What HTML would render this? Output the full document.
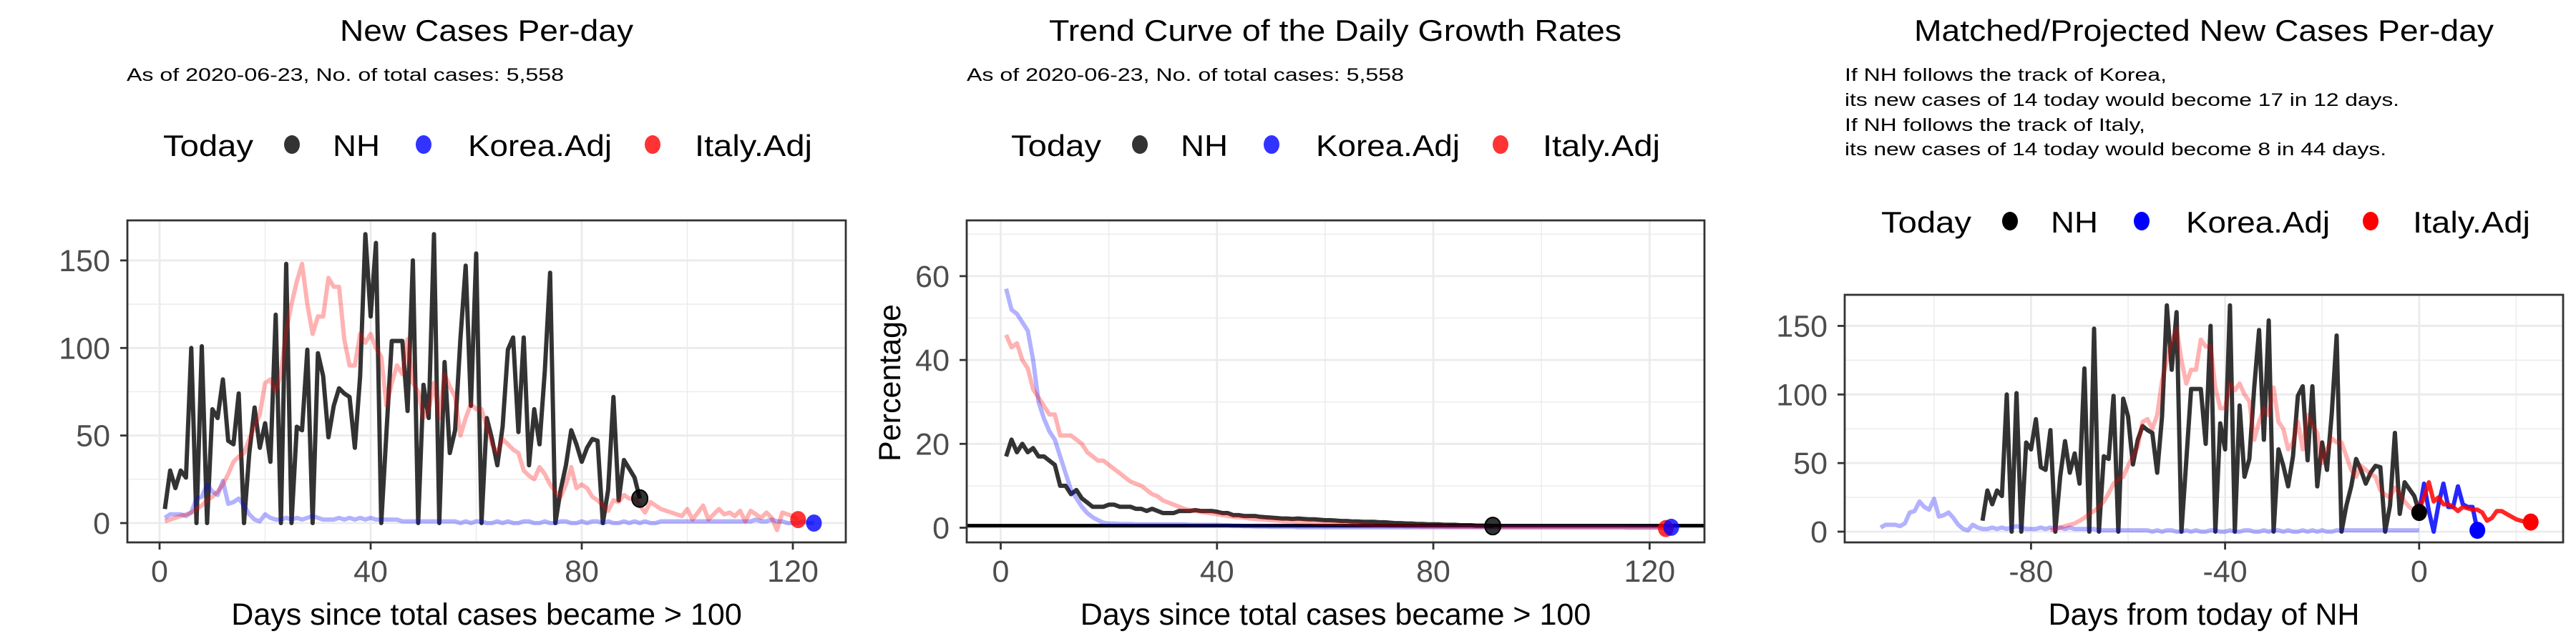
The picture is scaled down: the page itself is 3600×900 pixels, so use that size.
<!DOCTYPE html>
<html><head><meta charset="utf-8"><style>
html,body{margin:0;padding:0;background:#fff;}
svg{display:block;font-family:"Liberation Sans",sans-serif;}
</style></head><body>
<svg id="chart" width="3600" height="900" viewBox="0 0 3600 900" xmlns="http://www.w3.org/2000/svg"></svg>
<script>
// ---------- DATA ----------
const nhDaily = [8,30,20,30,26,100,0,101,0,65,60,82,47,45,74,0,40,66,43,57,35,119,0,148,0,55,53,99,0,97,84,49,67,77,74,72,43,84,165,118,160,0,52,104,104,104,64,150,0,79,60,165,0,92,40,53,105,147,67,154,0,60,48,33,55,99,106,52,106,33,65,45,87,143,0,19,33,53,45,35,43,48,47,0,19,72,13,36,31,26,14];
const koreaDaily = [3,5,5,5,4,6,14,15,22,18,16,24,11,12,14,10,5,2,1,5,3,2,2,3,2,3,2,3,4,3,2,2,2,3,2,3,2,3,2,3,2,2,2,2,2,1,1,1,1,1,1,1,1,1,1,1,0,1,0,1,1,0,0,1,0,1,0,0,1,1,0,0,1,0,0,1,1,0,0,1,0,1,1,0,1,0,0,1,0,1,0,1,0,0,1,1,1,1,1,1,1,1,1,1,1,1,1,1,1,1,1,1,2,1,1,2,1,1,0,0,0,1,0,0];
const italyDaily = [1,2,3,4,5,6,8,10,13,15,18,22,28,35,38,40,48,55,62,80,82,75,85,110,125,138,148,125,108,118,118,140,135,135,105,90,90,108,103,108,100,95,67,80,90,85,105,80,75,60,65,80,60,85,78,72,50,60,68,65,65,55,45,40,48,45,42,40,30,27,25,32,28,22,18,15,22,32,20,22,20,15,13,10,7,13,12,16,14,14,10,6,12,10,8,7,6,5,4,8,2,6,10,2,5,8,5,6,4,7,1,7,5,3,6,3,-4,6,5,4,2];
const nhGrowth = [17,21,18,20,18,19,17,17,16,15,10,10,8,9,7,6,5,5,5,5.5,5.5,5,5,5,4.5,4.5,4,4.5,4,3.5,3.5,3.5,4,4,4,4.2,4,4,4,3.8,3.5,3.5,3,3,2.8,2.8,2.8,2.6,2.5,2.4,2.3,2.2,2.2,2.1,2.2,2.1,2,2,1.9,1.8,1.8,1.7,1.6,1.6,1.5,1.5,1.4,1.4,1.4,1.3,1.3,1.2,1.1,1.1,1,1,0.9,0.9,0.8,0.8,0.8,0.7,0.7,0.7,0.6,0.6,0.6,0.5,0.5,0.5,0.4];
const koreaGrowth = [57,52,51,49,47,40,30,26,23,21,17,13,9,7,5,3.5,2.5,1.8,1.2,1,1,0.9,0.9,0.9,0.8,0.8,0.8,0.8,0.8,0.8,0.8,0.8,0.8,0.8,0.7,0.7,0.7,0.7,0.7,0.7,0.6,0.6,0.5,0.5,0.4,0.4,0.3,0.3,0.3,0.2,0.2,0.2,0.2,0.2,0.1,0.1,0.1,0.1,0.1,0.1,0.1,0.1,0.1,0.1,0.1,0.1,0.1,0.1,0.1,0.1,0.1,0.1,0.1,0.1,0.1,0.1,0.1,0.1,0.1,0.1,0.1,0.1,0.1,0.1,0.1,0.1,0.1,0.1,0.1,0.1,0.1,0.1,0.1,0.1,0.1,0.1,0.1,0.1,0.1,0.1,0.1,0.1,0.1,0.1,0.1,0.1,0.1,0.1,0.1,0.1,0.1,0.1,0.1,0.1,0.1,0.1,0.1,0.1,0.1,0.1,0.1,0.1,0.1,0.1];
const italyGrowth = [46,43,44,40,38,33,31,29,27,27,22,22,22,21,20,18,17,16,16,15,14,13,12,11,10.5,10,9,8,7.5,6.5,6,5.5,5,4.5,4.2,4,3.8,3.6,3.4,3.2,3,2.8,2.6,2.5,2.4,2.2,2.1,2,1.9,1.8,1.7,1.6,1.5,1.5,1.4,1.3,1.3,1.2,1.1,1.1,1,1,0.9,0.9,0.8,0.8,0.7,0.7,0.6,0.6,0.6,0.5,0.5,0.5,0.4,0.4,0.4,0.3,0.3,0.3,0.3,0.3,0.2,0.2,0.2,0.2,0.2,0.2,0.2,0.2,0.2,0.1,0.1,0.1,0.1,0.1,0.1,0.1,0.1,0.1,0.1,0.1,0.1,0.1,0.1,0.1,0.1,0.1,0.1,0.1,0.1,0.1,0.1,0.1,0.1,0,0,0,0,0,0,0,-0.2];
const koreaProj = [14,35,15,0,20,35,18,18,33,20,18,18,1];
const italyProj = [16,25,36,22,25,20,20,18,15,18,17,16,16,14,8,10,15,15,13,11,9,8,7,7];
const xTicks12 = [0,40,80,120];
const yTicks1 = [0,50,100,150];
const yTicks2 = [0,20,40,60];
const xTicks3 = [-80,-40,0];
const nhShift3 = 91, koreaShift3 = 112, italyShift3 = 77;

// ---------- HELPERS ----------
const NS = "http://www.w3.org/2000/svg";
const svg = document.getElementById("chart");
function el(tag, attrs, parent, txt){
  const e = document.createElementNS(NS, tag);
  for (const k in attrs) e.setAttribute(k, attrs[k]);
  if (txt !== undefined) e.textContent = txt;
  (parent || svg).appendChild(e);
  return e;
}
function text(x,y,s,size,opts,parent){
  const a = Object.assign({x:x,y:y,'font-size':size,fill:'#000'}, opts||{});
  return el('text', a, parent, s);
}

function panel(cfg){
  const g = el('g', {});
  
  
  const L=cfg.box[0], R=cfg.box[1], T=cfg.box[2], B=cfg.box[3];
  const sx = v => cfg.x0px + (v - cfg.x0) * cfg.xpu;
  const sy = v => cfg.y0px - (v - cfg.y0) * cfg.ypu;
  const grid = el('g', {}, g);
  
  
  const xs = cfg.xticks, ys = cfg.yticks;
  const xstep = xs[1]-xs[0], ystep = ys[1]-ys[0];
  for (let v = xs[0]-xstep*3; v <= xs[xs.length-1]+xstep*3; v += xstep/2){
    const p = sx(v); if (p < L || p > R) continue;
    const major = Math.abs((v - xs[0]) % xstep) < 1e-9;
    el('line',{x1:p,x2:p,y1:T,y2:B,stroke:'#ebebeb','stroke-width':major?2.8:1.4},grid);
  }
  for (let v = ys[0]-ystep*3; v <= ys[ys.length-1]+ystep*3; v += ystep/2){
    const p = sy(v); if (p < T || p > B) continue;
    const major = Math.abs((v - ys[0]) % ystep) < 1e-9;
    el('line',{x1:L,x2:R,y1:p,y2:p,stroke:'#ebebeb','stroke-width':major?2.8:1.4},grid);
  }
  const cid = 'clip-'+cfg.name;
  const cp = el('clipPath',{id:cid},g); el('rect',{x:L,y:T,width:R-L,height:B-T},cp);
  const plot = el('g',{'clip-path':'url(#'+cid+')'},g);
  if (cfg.hline !== undefined){
    const h = el('line',{x1:L,x2:R,y1:sy(cfg.hline),y2:sy(cfg.hline),stroke:'#000','stroke-width':5},plot);
    
    
  }
  cfg.series.forEach(s => {
    const pts = s.data.map((v,i) => sx(s.x(i)).toFixed(1)+','+sy(v).toFixed(1)).join(' ');
    const pl = el('polyline',{points:pts,fill:'none',stroke:s.color,'stroke-opacity':s.op,'stroke-width':6,'stroke-linejoin':'round'},plot);
    
    
  });
  cfg.points.forEach(p => {
    const c = el('ellipse',{cx:sx(p.x),cy:sy(p.y),rx:11,ry:12,fill:p.color,'fill-opacity':p.op,stroke:'#000','stroke-opacity':p.stroke||0,'stroke-width':2},plot);
    
    
  });
  el('rect',{x:L,y:T,width:R-L,height:B-T,fill:'none',stroke:'#333','stroke-width':2.8},g);
  xs.forEach(v => {
    const p = sx(v);
    el('line',{x1:p,x2:p,y1:B,y2:B+10,stroke:'#333','stroke-width':2.8},g);
    const t = text(p, B+55, String(v), 43, {'text-anchor':'middle',fill:'#4d4d4d'}, g);
    
    
  });
  ys.forEach(v => {
    const p = sy(v);
    el('line',{x1:L-10,x2:L,y1:p,y2:p,stroke:'#333','stroke-width':2.8},g);
    const t = text(L-24, p+15, String(v), 43, {'text-anchor':'end',fill:'#4d4d4d'}, g);
    
    
  });
  const xt = text((L+R)/2, 873, cfg.xtitle, 43, {'text-anchor':'middle'}, g);
  
  
  if (cfg.ytitle){
    const yt = text(0,0,cfg.ytitle,43,{'text-anchor':'middle',transform:'translate('+cfg.ytitleX+',535) rotate(-90)'},g);
    
    
  }
}

function legend(ox, baseline, solid){
  const g = el('g',{});
  
  
  text(ox+228, baseline, 'Today', 42, {textLength:126,lengthAdjust:'spacingAndGlyphs'}, g);
  const items = [['NH',408,465,66,'#000'],['Korea.Adj',592,654,201,'#00f'],['Italy.Adj',912,971,164,'#f00']];
  items.forEach(it => {
    const e = el('g',{},g);
    
    
    el('ellipse',{cx:ox+it[1],cy:baseline-16,rx:11,ry:13,fill:it[4],'fill-opacity':solid?1:0.8},e);
    text(ox+it[2], baseline, it[0], 42, {textLength:it[3],lengthAdjust:'spacingAndGlyphs'}, e);
  });
}

function idx(shift){ return i => i + 1 - shift; }

// ---------- PANEL 1 ----------
let t = text(475, 57, 'New Cases Per-day', 42, {textLength:410,lengthAdjust:'spacingAndGlyphs'});
 
t = text(177, 113, 'As of 2020-06-23, No. of total cases: 5,558', 25, {textLength:611,lengthAdjust:'spacingAndGlyphs'});
 
legend(0, 218, false);
panel({name:'panel-new-cases', box:[178,1182,308,758], x0:0, x0px:223, xpu:7.375, y0:0, y0px:731, ypu:2.447,
  xticks:xTicks12, yticks:yTicks1, xtitle:'Days since total cases became > 100',
  series:[
    {name:'nh-line', data:nhDaily, x:idx(0), color:'#000', op:0.8},
    {name:'korea-line', data:koreaDaily, x:idx(0), color:'#00f', op:0.3},
    {name:'italy-line', data:italyDaily, x:idx(0), color:'#f00', op:0.3}],
  points:[
    {name:'nh-today-point', x:nhDaily.length, y:nhDaily[nhDaily.length-1], color:'#000', op:0.8, stroke:1},
    {name:'italy-today-point', x:italyDaily.length, y:italyDaily[italyDaily.length-1], color:'#f00', op:0.8},
    {name:'korea-today-point', x:koreaDaily.length, y:koreaDaily[koreaDaily.length-1], color:'#00f', op:0.8}]
});

// ---------- PANEL 2 ----------
t = text(1466, 57, 'Trend Curve of the Daily Growth Rates', 42, {textLength:800,lengthAdjust:'spacingAndGlyphs'});
 
t = text(1351, 113, 'As of 2020-06-23, No. of total cases: 5,558', 25, {textLength:611,lengthAdjust:'spacingAndGlyphs'});
 
legend(1185, 218, false);
panel({name:'panel-growth-rates', box:[1351,2382,308,758], x0:0, x0px:1398.5, xpu:7.557, y0:0, y0px:737.5, ypu:5.86,
  xticks:xTicks12, yticks:yTicks2, xtitle:'Days since total cases became > 100', ytitle:'Percentage', ytitleX:1258, hline:0.5,
  series:[
    {name:'nh-growth-line', data:nhGrowth, x:idx(0), color:'#000', op:0.8},
    {name:'korea-growth-line', data:koreaGrowth, x:idx(0), color:'#00f', op:0.3},
    {name:'italy-growth-line', data:italyGrowth, x:idx(0), color:'#f00', op:0.3}],
  points:[
    {name:'nh-growth-point', x:nhGrowth.length, y:nhGrowth[nhGrowth.length-1], color:'#000', op:0.8, stroke:1},
    {name:'italy-growth-point', x:italyGrowth.length, y:italyGrowth[italyGrowth.length-1], color:'#f00', op:0.8},
    {name:'korea-growth-point', x:koreaGrowth.length, y:koreaGrowth[koreaGrowth.length-1], color:'#00f', op:0.8}]
});

// ---------- PANEL 3 ----------
t = text(2675, 57, 'Matched/Projected New Cases Per-day', 42, {textLength:810,lengthAdjust:'spacingAndGlyphs'});
 
const notes = ['If NH follows the track of Korea,','its new cases of 14 today would become 17 in 12 days.','If NH follows the track of Italy,','its new cases of 14 today would become 8 in 44 days.'];
const noteW = [450,775,420,757];
const noteY = [113,148,183,217];
notes.forEach((s,i) => {
  const n = text(2578, noteY[i], s, 25, {textLength:noteW[i],lengthAdjust:'spacingAndGlyphs'});
  
  
});
legend(2401, 325, true);
panel({name:'panel-projected', box:[2578,3582,412,758], x0:0, x0px:3380.8, xpu:6.78, y0:0, y0px:743, ypu:1.917,
  xticks:xTicks3, yticks:yTicks1, xtitle:'Days from today of NH',
  series:[
    {name:'nh-matched-line', data:nhDaily, x:idx(nhShift3), color:'#000', op:0.8},
    {name:'korea-matched-line', data:koreaDaily.slice(0,koreaShift3), x:idx(koreaShift3), color:'#00f', op:0.3},
    {name:'italy-matched-line', data:italyDaily.slice(0,italyShift3), x:idx(italyShift3), color:'#f00', op:0.3},
    {name:'korea-projected-line', data:koreaProj, x:i=>i, color:'#00f', op:0.85},
    {name:'italy-projected-line', data:italyProj, x:i=>i, color:'#f00', op:0.85}],
  points:[
    {name:'nh-today-point-3', x:0, y:nhDaily[nhDaily.length-1], color:'#000', op:1},
    {name:'korea-projected-point', x:koreaProj.length-1, y:koreaProj[koreaProj.length-1], color:'#00f', op:1},
    {name:'italy-projected-point', x:italyProj.length-1, y:italyProj[italyProj.length-1], color:'#f00', op:1}]
});
</script>
</body></html>
